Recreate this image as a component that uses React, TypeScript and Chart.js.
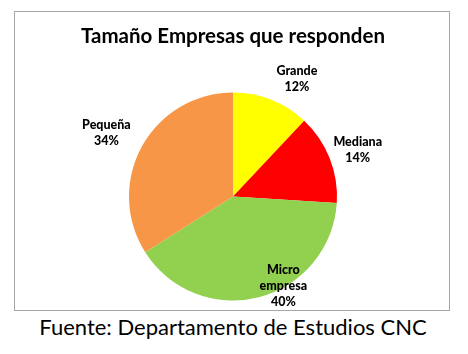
import React, { useEffect, useRef } from "react";
import { Chart, registerables } from "chart.js";

Chart.register(...registerables);

const categories = ["Grande", "Mediana", "Micro\nempresa", "Pequeña"];
const values = [12, 14, 40, 34];
const colors = ["#FFFF00", "#FF0000", "#92D050", "#F79646"];
const titleText = "Tamaño Empresas que responden";
const sourceText = "Fuente: Departamento de Estudios CNC";

// label placement per slice: [radius factor, angle shift in radians]
const labelPlacement: [number, number][] = [
  [1.29, 0.12],
  [1.28, 0.02],
  [0.99, -0.26],
  [1.36, -0.04],
];

const labelPlugin = {
  id: "sliceLabels",
  afterDatasetsDraw(chart: any) {
    const ctx = chart.ctx;
    const meta = chart.getDatasetMeta(0);
    const total = values.reduce((a, b) => a + b, 0);
    ctx.save();
    ctx.font = "900 12.5px Lato";
    ctx.fillStyle = "#000";
    ctx.textAlign = "center";
    ctx.textBaseline = "middle";
    meta.data.forEach((arc: any, i: number) => {
      const p = arc.getProps(["x", "y", "startAngle", "endAngle", "outerRadius"], true);
      const [rf, da] = labelPlacement[i];
      const mid = (p.startAngle + p.endAngle) / 2 + da;
      const r = p.outerRadius * rf;
      const cx = p.x + Math.cos(mid) * r;
      const cy = p.y + Math.sin(mid) * r;
      const lines = categories[i].split("\n").concat([Math.round((values[i] / total) * 100) + "%"]);
      const lh = 16;
      const y0 = cy - ((lines.length - 1) * lh) / 2;
      lines.forEach((t, k) => ctx.fillText(t, cx, y0 + k * lh));
    });
    ctx.restore();
  },
};

export default function App() {
  const ref = useRef<HTMLCanvasElement>(null);
  useEffect(() => {
    if (!ref.current) return;
    const chart = new Chart(ref.current, {
      type: "pie",
      data: {
        labels: categories,
        datasets: [
          {
            data: values,
            backgroundColor: colors,
            borderWidth: 0,
          },
        ],
      },
      options: {
        animation: false,
        responsive: false,
        layout: { padding: { top: 0, bottom: 9.5, left: 2, right: 0 } },
        plugins: {
          legend: { display: false },
          tooltip: { enabled: false },
          title: {
            display: true,
            text: titleText,
            color: "#000",
            font: { family: "Lato", size: 20.5, weight: "bold", lineHeight: 1.2 },
            padding: { top: 12.5, bottom: 43.4 },
          },
        },
      },
      plugins: [labelPlugin],
    });
    return () => chart.destroy();
  }, []);
  return (
    <div style={{ position: "fixed", left: 0, top: 0, width: 468, height: 354, background: "#fff" }}>
      <div
        style={{
          position: "absolute",
          left: 14,
          top: 11,
          width: 434,
          height: 298,
          border: "1px solid #a6a6a6",
        }}
      >
        <canvas ref={ref} width={434} height={298} style={{ display: "block" }} />
      </div>
      <div
        style={{
          position: "absolute",
          left: 0,
          top: 313,
          width: 466,
          textAlign: "center",
          fontFamily: "Lato",
          fontSize: 22,
          lineHeight: "28px",
          color: "#000",
        }}
      >
        {sourceText}
      </div>
    </div>
  );
}
